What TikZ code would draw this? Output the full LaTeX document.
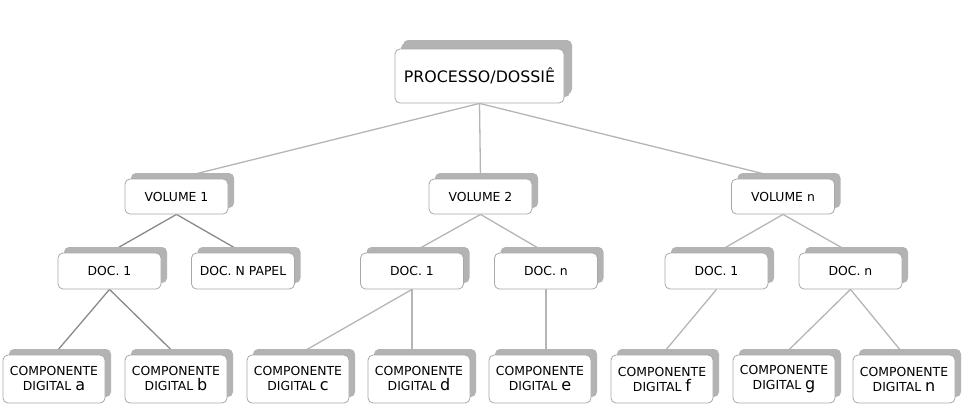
\documentclass[tikz,border=0pt]{standalone}
\usepackage{fontspec}
\setmainfont{DejaVu Sans}
\usetikzlibrary{shadows,backgrounds}
\definecolor{boxline}{HTML}{A8A8A8}
\definecolor{shadowc}{HTML}{B3B3B3}
\definecolor{darkline}{HTML}{8A8A8A}
\definecolor{lightline}{HTML}{B5B5B5}
\tikzset{
  basebox/.style={draw=boxline, line width=0.8pt, fill=white, rounded corners=5pt,
    inner sep=0pt, align=center,
    drop shadow={shadow xshift=6pt, shadow yshift=6pt, fill=shadowc, opacity=1}},
  topbox/.style={basebox, minimum width=169pt, minimum height=54pt,
    font=\fontsize{15.8}{18}\selectfont,
    drop shadow={shadow xshift=8pt, shadow yshift=9pt, fill=shadowc, opacity=1}},
  volbox/.style={basebox, minimum width=103pt, minimum height=35pt, font=\fontsize{12.4}{15}\selectfont},
  docbox/.style={basebox, minimum width=103pt, minimum height=36pt, font=\fontsize{12.4}{15}\selectfont},
  compbox/.style={basebox, minimum width=102pt, minimum height=48pt, font=\fontsize{12.4}{15}\selectfont},
  darkconn/.style={draw=darkline, line width=1.3pt},
  lightconn/.style={draw=lightline, line width=1.3pt},
}
\newcommand{\biglet}[1]{{\fontsize{16}{15}\selectfont #1}}
\begin{document}
\begin{tikzpicture}[x=1pt,y=-1pt]
\useasboundingbox (0,0) rectangle (965,408);
% level 1
\node[topbox] (P) at (479.5,76) {PROCESSO/DOSSIÊ};
% level 2
\node[volbox] (V1) at (176.5,196.5) {VOLUME 1};
\node[volbox] (V2) at (480.5,196.5) {VOLUME 2};
\node[volbox] (Vn) at (783,196.5) {VOLUME n};
% level 3
\node[docbox] (D1) at (109.5,271) {DOC. 1};
\node[docbox] (DNP) at (243,271) {DOC. N PAPEL};
\node[docbox] (E1) at (412,271) {DOC. 1};
\node[docbox] (En) at (546,271) {DOC. n};
\node[docbox] (F1) at (716.5,271) {DOC. 1};
\node[docbox] (Fn) at (850.5,271) {DOC. n};
% level 4
\node[compbox] (Ca) at (54,379) {COMPONENTE\\DIGITAL \biglet{a}};
\node[compbox] (Cb) at (176,379) {COMPONENTE\\DIGITAL \biglet{b}};
\node[compbox] (Cc) at (298,379) {COMPONENTE\\DIGITAL \biglet{c}};
\node[compbox] (Cd) at (419,379) {COMPONENTE\\DIGITAL \biglet{d}};
\node[compbox] (Ce) at (540,379) {COMPONENTE\\DIGITAL \biglet{e}};
\node[compbox] (Cf) at (662,379) {COMPONENTE\\DIGITAL \biglet{f}};
\node[compbox] (Cg) at (784,379) {COMPONENTE\\DIGITAL \biglet{g}};
\node[compbox] (Cn) at (904,379) {COMPONENTE\\DIGITAL \biglet{n}};
% connectors
\begin{scope}[on background layer]
\draw[lightconn] (P.south) -- (V1.north);
\draw[lightconn] (P.south) -- (V2.north);
\draw[lightconn] (P.south) -- (Vn.north);
\draw[darkconn] (V1.south) -- (D1.north);
\draw[darkconn] (V1.south) -- (DNP.north);
\draw[lightconn] (V2.south) -- (E1.north);
\draw[lightconn] (V2.south) -- (En.north);
\draw[lightconn] (Vn.south) -- (F1.north);
\draw[lightconn] (Vn.south) -- (Fn.north);
\draw[darkconn] (D1.south) -- (Ca.north);
\draw[darkconn] (D1.south) -- (Cb.north);
\draw[lightconn] (E1.south) -- (Cc.north);
\draw[lightconn] (E1.south) -- (E1.south |- Cd.north);
\draw[lightconn] (En.south) -- (En.south |- Ce.north);
\draw[lightconn] (F1.south) -- (Cf.north);
\draw[lightconn] (Fn.south) -- (Cg.north);
\draw[lightconn] (Fn.south) -- (Cn.north);
\end{scope}
\end{tikzpicture}
\end{document}
